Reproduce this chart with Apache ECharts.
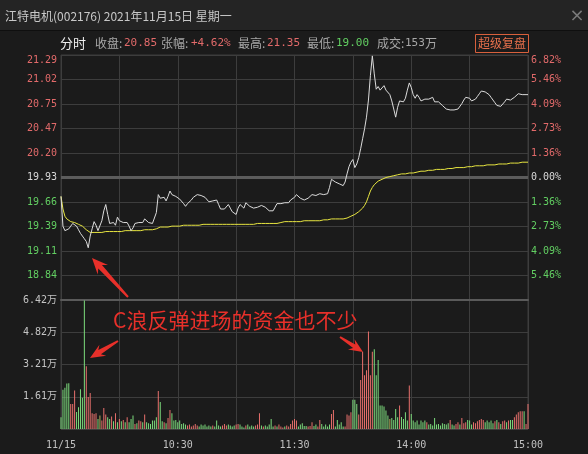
<!DOCTYPE html>
<html><head><meta charset="utf-8">
<script src="https://cdn.jsdelivr.net/npm/echarts@6/dist/echarts.min.js"></script>
<style>html,body{margin:0;padding:0;background:#1b1b1b;}#c{width:588px;height:454px;}</style>
</head><body><div id="c"></div>
<script>
// ---------- data ----------
const PREV_CLOSE = 19.93;
const PRICE_STEP = 0.272;          // one grid step (≈1.36%)
const VOL_MAX = 6.422;             // 万
const VOL_STEP = 1.6055;

const price = [
19.72,19.39,19.34,19.33,19.36,19.39,19.42,19.43,19.39,19.35,
19.31,19.28,19.25,19.22,19.15,19.28,19.36,19.44,19.40,19.34,
19.33,19.45,19.56,19.63,19.52,19.42,19.44,19.43,19.40,19.49,
19.45,19.44,19.43,19.45,19.43,19.39,19.34,19.37,19.42,19.43,
19.43,19.44,19.43,19.47,19.49,19.43,19.45,19.42,19.43,19.54,
19.74,19.70,19.68,19.71,19.67,19.72,19.78,19.74,19.76,19.72,
19.72,19.69,19.68,19.64,19.61,19.64,19.66,19.68,19.71,19.72,
19.74,19.74,19.73,19.72,19.71,19.69,19.66,19.65,19.67,19.68,
19.68,19.63,19.58,19.56,19.58,19.60,19.63,19.59,19.55,19.53,
19.52,19.59,19.63,19.61,19.59,19.65,19.63,19.61,19.60,19.59,
19.58,19.60,19.61,19.62,19.62,19.60,19.58,19.56,19.55,19.56,
19.60,19.64,19.64,19.64,19.64,19.65,19.63,19.65,19.68,19.70,
19.71,19.74,19.73,19.70,19.68,19.68,19.69,19.70,19.72,19.74,
19.75,19.73,19.75,19.75,19.74,19.74,19.74,19.75,19.82,19.91,
19.89,19.88,19.87,19.86,19.85,19.84,19.88,19.97,20.05,20.10,
20.13,20.04,20.08,20.15,20.25,20.36,20.47,20.60,20.79,21.06,
21.28,21.08,20.91,20.94,20.90,20.92,20.95,20.90,20.89,20.85,
20.78,20.69,20.60,20.71,20.78,20.76,20.77,20.81,20.90,20.98,
20.93,20.85,20.81,20.85,20.82,20.78,20.80,20.80,20.80,20.80,
20.80,20.82,20.77,20.77,20.77,20.76,20.73,20.71,20.69,20.69,
20.68,20.68,20.68,20.67,20.69,20.71,20.75,20.79,20.82,20.84,
20.81,20.78,20.77,20.80,20.83,20.86,20.89,20.91,20.88,20.86,
20.85,20.82,20.79,20.76,20.73,20.72,20.72,20.74,20.77,20.80,
20.80,20.79,20.79,20.82,20.84,20.86,20.86,20.85,20.85,20.85,20.85
];

const avgPrice = [
19.72,19.58,19.50,19.47,19.45,19.44,19.43,19.43,19.42,19.41,
19.40,19.39,19.37,19.35,19.33,19.32,19.32,19.32,19.32,19.32,
19.32,19.32,19.33,19.33,19.33,19.33,19.33,19.33,19.33,19.33,
19.33,19.33,19.33,19.34,19.34,19.34,19.34,19.34,19.34,19.34,
19.34,19.34,19.34,19.35,19.35,19.35,19.35,19.35,19.35,19.36,
19.37,19.38,19.38,19.38,19.38,19.38,19.39,19.39,19.39,19.39,
19.39,19.39,19.39,19.40,19.40,19.40,19.40,19.40,19.40,19.40,
19.40,19.40,19.40,19.41,19.41,19.41,19.41,19.41,19.41,19.41,
19.41,19.41,19.41,19.41,19.41,19.41,19.41,19.41,19.41,19.41,
19.41,19.41,19.41,19.41,19.41,19.41,19.41,19.41,19.41,19.41,
19.42,19.42,19.42,19.42,19.42,19.42,19.42,19.42,19.42,19.42,
19.42,19.42,19.42,19.43,19.44,19.44,19.44,19.44,19.44,19.44,
19.44,19.44,19.44,19.44,19.45,19.45,19.45,19.45,19.45,19.45,
19.45,19.45,19.45,19.45,19.46,19.46,19.46,19.46,19.46,19.47,
19.47,19.47,19.47,19.47,19.47,19.47,19.47,19.48,19.49,19.50,
19.51,19.52,19.53,19.55,19.56,19.59,19.62,19.66,19.72,19.78,
19.82,19.85,19.87,19.89,19.90,19.91,19.92,19.93,19.94,19.94,
19.95,19.95,19.95,19.96,19.96,19.97,19.97,19.97,19.97,19.98,
19.98,19.98,19.99,19.99,19.99,20.00,20.00,20.00,20.00,20.01,
20.01,20.01,20.01,20.02,20.02,20.02,20.02,20.02,20.03,20.03,
20.03,20.03,20.03,20.04,20.04,20.04,20.04,20.04,20.05,20.05,
20.05,20.05,20.05,20.06,20.06,20.06,20.06,20.06,20.07,20.07,
20.07,20.07,20.07,20.07,20.08,20.08,20.08,20.08,20.08,20.08,
20.08,20.09,20.09,20.09,20.09,20.09,20.10,20.10,20.10,20.10,20.10
];

// volume in 万
const volume = [
0.58,1.96,2.05,2.26,2.28,1.25,1.25,1.92,0.85,1.08,
1.98,1.55,6.40,3.13,1.59,1.79,0.78,0.75,0.78,0.50,
0.67,0.42,1.05,0.72,0.58,0.50,0.62,0.38,0.78,0.33,
0.50,0.38,0.45,0.33,0.58,0.33,0.50,0.67,0.25,0.29,
0.42,0.38,0.33,0.72,0.33,0.29,0.25,0.42,0.42,0.58,
1.89,1.34,0.38,0.33,0.29,0.55,0.95,0.78,0.42,0.45,
0.33,0.42,0.25,0.29,0.22,0.17,0.22,0.12,0.17,0.25,
0.17,0.12,0.22,0.17,0.22,0.12,0.17,0.12,0.17,0.12,
0.42,0.17,0.12,0.17,0.25,0.17,0.22,0.17,0.12,0.17,
0.22,0.25,0.22,0.12,0.08,0.17,0.22,0.12,0.17,0.12,
0.17,0.22,0.78,0.17,0.12,0.17,0.12,0.22,0.50,0.12,
0.17,0.12,0.22,0.12,0.08,0.12,0.17,0.12,0.25,0.42,
0.50,0.42,0.12,0.22,0.29,0.15,0.15,0.12,0.15,0.33,
0.15,0.22,0.12,0.45,0.25,0.12,0.22,0.12,0.22,0.75,
0.95,0.12,0.45,0.22,0.33,0.12,0.12,0.72,0.67,0.83,
1.45,1.45,1.25,0.72,2.44,3.85,2.68,2.93,4.85,2.68,
3.85,3.97,2.68,3.43,1.17,1.17,1.12,0.92,0.67,0.50,
0.55,0.45,1.00,0.58,1.17,0.60,0.50,0.83,0.42,2.17,
0.75,0.42,0.33,0.42,0.22,0.42,0.33,0.42,0.33,0.22,
0.25,0.17,0.55,0.22,0.25,0.17,0.29,0.25,0.22,0.29,
0.45,0.22,0.17,0.25,0.33,0.22,0.55,0.29,0.33,0.45,
0.42,0.22,0.33,0.29,0.38,0.45,0.50,0.45,0.33,0.42,
0.33,0.42,0.29,0.38,0.45,0.33,0.25,0.38,0.42,0.33,
0.42,0.45,0.45,0.58,0.72,0.83,0.88,0.88,0.88,0.25,1.25
];

// bar colour class per minute: r = up, g = down, y = flat (10 minutes per row)
const volDirRows = [
'gggggrrrgg','gggrrrrrrg','yrrrggrgrg','rgrgrgggrg','rrgrgggggg',
'rggrgrrggg','gggggrrrrr','rgggggggrg','gggrrrgggg','rrgggrgggg',
'rrrgrggggg','rgrrrgrrrr','rrgggggrrr','ggrrgggggr','rgggggrrrr',
'gggrrrrrrr','rggggggggy','ggggrggggr','ggggggggrg','gggggggggg',
'rggrrgrrrg','ggrrrrrrgg','gggrgrgrrg','rggrrrrrgrr'
];
const volDir = volDirRows.join('').split('');

const xTickLabels = {0: '11/15', 60: '10:30', 120: '11:30', 180: '14:00', 240: '15:00'};

// minute categories 09:30–11:30, 13:01–15:00
const times = [];
for (let i = 0; i <= 240; i++) {
  const t = i <= 120 ? 570 + i : 780 + (i - 120);
  times.push(String(Math.floor(t / 60)).padStart(2, '0') + ':' + String(t % 60).padStart(2, '0'));
}

// ---------- styles ----------
const RED = '#e26a6a', GREEN = '#62cf62', WHITE = '#d8d8d8';
const BAR_COL = {r: '#e8706c', g: '#7ddc7d', y: '#b5ad5c'};
const GRID_LINE = '#3d3d3d';
const MONO = "'DejaVu Sans Mono', 'Noto Sans CJK SC', monospace";
const CJK = "'Noto Sans CJK SC', sans-serif";

const pMin = +(PREV_CLOSE - 5 * PRICE_STEP).toFixed(3);
const pMax = +(PREV_CLOSE + 5 * PRICE_STEP).toFixed(3);
function levelColor(v) {
  v = parseFloat(v);
  if (Math.abs(v - PREV_CLOSE) < 0.001) return WHITE;
  return v > PREV_CLOSE ? RED : GREEN;
}

function arrow(tx, ty, hx, hy, headLen, headW, neckW, tailW) {
  const dx = hx - tx, dy = hy - ty, L = Math.hypot(dx, dy);
  const ux = dx / L, uy = dy / L, px = -uy, py = ux;
  const bx = hx - ux * headLen, by = hy - uy * headLen;
  const cx = hx - ux * headLen * 0.75, cy = hy - uy * headLen * 0.75;
  return {
    type: 'polygon', z: 100,
    shape: {points: [
      [tx + px * tailW / 2, ty + py * tailW / 2],
      [cx + px * neckW / 2, cy + py * neckW / 2],
      [bx + px * headW / 2, by + py * headW / 2],
      [hx, hy],
      [bx - px * headW / 2, by - py * headW / 2],
      [cx - px * neckW / 2, cy - py * neckW / 2],
      [tx - px * tailW / 2, ty - py * tailW / 2]
    ]},
    style: {fill: '#e8302a'}
  };
}

const GRAY_TXT = '#a8a8a8';
const infoItems = [
  [60, '分时', '#f0f0f0', CJK, 13],
  [95, '收盘:', GRAY_TXT, CJK, 12],
  [124, '20.85', RED, MONO, 11],
  [161, '张幅:', GRAY_TXT, CJK, 12],
  [191, '+4.62%', RED, MONO, 11],
  [238, '最高:', GRAY_TXT, CJK, 12],
  [267, '21.35', RED, MONO, 11],
  [307, '最低:', GRAY_TXT, CJK, 12],
  [336, '19.00', GREEN, MONO, 11],
  [377, '成交:', GRAY_TXT, CJK, 12],
  [405, '153', GRAY_TXT, MONO, 11],
  [425, '万', GRAY_TXT, CJK, 12]
];

const chart = echarts.init(document.getElementById('c'), null, {renderer: 'canvas'});
chart.setOption({
  animation: false,
  backgroundColor: '#1b1b1b',
  grid: [
    {left: 61, top: 55, width: 467, height: 245, show: true, borderColor: GRID_LINE, borderWidth: 1},
    {left: 61, top: 300, width: 467, height: 129, show: true, borderColor: GRID_LINE, borderWidth: 1}
  ],
  xAxis: [
    {type: 'category', gridIndex: 0, data: times, boundaryGap: false,
     axisLine: {show: true, lineStyle: {color: '#5a5a5a', width: 2}}, axisTick: {show: false}, axisLabel: {show: false},
     splitLine: {show: true, interval: (i) => i % 30 === 0, lineStyle: {color: GRID_LINE, width: 1}}},
    {type: 'category', gridIndex: 1, data: times, boundaryGap: false,
     axisLine: {show: false}, axisTick: {show: false},
     axisLabel: {show: true, interval: (i) => xTickLabels[i] !== undefined, formatter: (v, i) => xTickLabels[i] || '',
                 color: '#c0c0c0', fontFamily: MONO, fontSize: 10, margin: 11},
     splitLine: {show: true, interval: (i) => i % 30 === 0, lineStyle: {color: GRID_LINE, width: 1}}}
  ],
  yAxis: [
    {type: 'value', gridIndex: 0, position: 'left', min: pMin, max: pMax, interval: PRICE_STEP,
     axisLine: {show: false}, axisTick: {show: false},
     splitLine: {show: true, lineStyle: {color: GRID_LINE, width: 1}},
     axisLabel: {showMinLabel: false, formatter: (v) => v.toFixed(2), color: levelColor,
                 fontFamily: MONO, fontSize: 10, margin: 4, verticalAlignMaxLabel: 'top'}},
    {type: 'value', gridIndex: 0, position: 'right', min: pMin, max: pMax, interval: PRICE_STEP,
     axisLine: {show: false}, axisTick: {show: false}, splitLine: {show: false},
     axisLabel: {showMinLabel: false, formatter: (v) => (Math.abs(v - PREV_CLOSE) / PREV_CLOSE * 100).toFixed(2) + '%',
                 color: levelColor, fontFamily: MONO, fontSize: 10, margin: 3, verticalAlignMaxLabel: 'top'}},
    {type: 'value', gridIndex: 1, position: 'left', min: 0, max: VOL_MAX, interval: VOL_STEP,
     axisLine: {show: false}, axisTick: {show: false},
     splitLine: {show: true, lineStyle: {color: GRID_LINE, width: 1}},
     axisLabel: {showMinLabel: false, formatter: (v) => v.toFixed(2) + '万', color: '#c4c4c4',
                 fontFamily: MONO, fontSize: 10, margin: 4}}
  ],
  series: [
    {type: 'line', name: 'avg', xAxisIndex: 0, yAxisIndex: 0, data: avgPrice, symbol: 'none', z: 3,
     lineStyle: {color: '#e8e640', width: 1},
     markLine: {silent: true, symbol: 'none', label: {show: false}, z: 1,
                lineStyle: {color: '#5c5c5c', width: 3, type: 'solid'}, data: [{yAxis: PREV_CLOSE}]}},
    {type: 'line', name: 'price', xAxisIndex: 0, yAxisIndex: 0, data: price, symbol: 'none', z: 4,
     lineStyle: {color: '#dcdcdc', width: 1}},
    {type: 'bar', name: 'vol', xAxisIndex: 1, yAxisIndex: 2, barWidth: 1,
     data: volume.map((v, i) => ({value: v, itemStyle: {color: BAR_COL[volDir[i]] || BAR_COL.g}}))}
  ],
  graphic: [
    {type: 'rect', z: -10, shape: {x: 0, y: 0, width: 588, height: 30}, style: {fill: '#242424'}},
    {type: 'rect', z: -9, shape: {x: 0, y: 30, width: 588, height: 1}, style: {fill: '#0f0f0f'}},
    {type: 'text', x: 5, y: 16, style: {text: '江特电机(002176) 2021年11月15日 星期一', fill: '#c8c8c8',
      font: "12px 'Noto Sans CJK SC'", verticalAlign: 'middle'}},
    {type: 'text', x: 577, y: 16, style: {text: '×', fill: '#7a7a7a', font: "18px 'DejaVu Sans'", align: 'center', verticalAlign: 'middle'}},
    ...infoItems.map(([x, t, c, f, s]) => ({type: 'text', x: x, y: 43.5,
      style: {text: t, fill: c, font: s + 'px ' + f, verticalAlign: 'middle'}})),
    {type: 'rect', shape: {x: 475.5, y: 34.5, width: 53, height: 18}, style: {fill: 'none', stroke: '#d8603c', lineWidth: 1}},
    {type: 'text', x: 502, y: 43.5, style: {text: '超级复盘', fill: '#e8704c', font: "12px 'Noto Sans CJK SC'",
      align: 'center', verticalAlign: 'middle'}},
    arrow(128, 297, 92, 258, 16, 14, 5, 2),
    arrow(118, 341, 90, 358, 15, 13, 5, 2),
    arrow(340, 337, 363, 352, 14, 12, 4, 2),
    {type: 'text', x: 113, y: 320, z: 100, style: {text: 'C浪反弹进场的资金也不少', fill: '#e8302a',
      font: "21px 'Noto Sans CJK SC'", verticalAlign: 'middle'}}
  ]
});
</script></body></html>
